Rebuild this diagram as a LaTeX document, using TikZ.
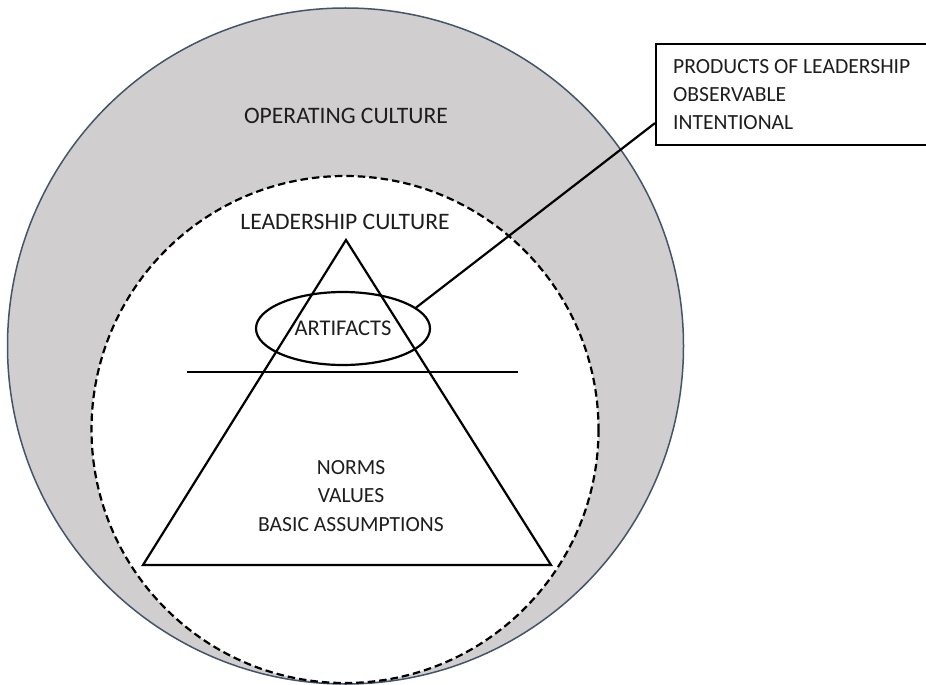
\documentclass[tikz,border=0pt]{standalone}
\usepackage{fontspec}
\setmainfont{Carlito}
\usetikzlibrary{shapes.geometric,calc}
\definecolor{ringfill}{HTML}{D0CECE}
\definecolor{ringline}{HTML}{44546A}
\definecolor{inkgray}{HTML}{1E1E1E}
\tikzset{
  lbl/.style={text=inkgray, inner sep=0pt, align=center},
  thick line/.style={line width=2.2bp, draw=black},
  dashring/.style={line width=2.2bp, draw=black, dash pattern=on 7.5bp off 4bp, fill=white},
}
\newcommand{\bigfont}{\fontsize{23.6bp}{28.3bp}\selectfont}
\newcommand{\midfont}{\fontsize{22.5bp}{28.3bp}\selectfont}
\newcommand{\smallerfont}{\fontsize{21.6bp}{28.3bp}\selectfont}
\begin{document}
\begin{tikzpicture}[x=1bp,y=-1bp]
  \clip (0,0) rectangle (926,685);
  \fill[white] (0,0) rectangle (926,685);

  % outer ring: the operating culture
  \draw[fill=ringfill, draw=ringline, line width=1.5bp] (345.5,346) circle[radius=338];
  % inner dashed ring: the leadership culture
  \draw[dashring] (345,429.5) circle[radius=253.5];

  % pyramid and its waterline
  \draw[thick line, line join=miter] (346,240) -- (143,565) -- (551,565) -- cycle;
  \draw[thick line] (187,372) -- (518,372);

  % labels
  \node[lbl, anchor=base, font=\bigfont] (op) at (346,123.5) {OPERATING CULTURE};
  \node[lbl, anchor=base, font=\bigfont] (lead) at (345,229) {LEADERSHIP CULTURE};
  \node[lbl, anchor=base, font=\smallerfont] (deep) at (351,531) {NORMS\\VALUES\\BASIC ASSUMPTIONS};

  % artifacts ellipse
  \node[ellipse, thick line, minimum width=174bp, minimum height=73bp, inner sep=0pt,
        text=inkgray, font=\midfont] (art) at (343,328.5) {ARTIFACTS};

  % callout box (runs on past the right edge)
  \node[draw=black, line width=2.2bp, anchor=north west, minimum height=101bp,
        text width=300bp, inner xsep=17bp, inner ysep=0pt, align=flush left,
        text=inkgray, font=\smallerfont] (prod) at (655,43)
        {PRODUCTS OF LEADERSHIP\\OBSERVABLE\\INTENTIONAL};
  \coordinate (tip) at ($(prod.west)+(0,28.5)$);

  % connector from the ellipse to the box
  \draw[thick line] (art.16) -- (tip);
\end{tikzpicture}
\end{document}
